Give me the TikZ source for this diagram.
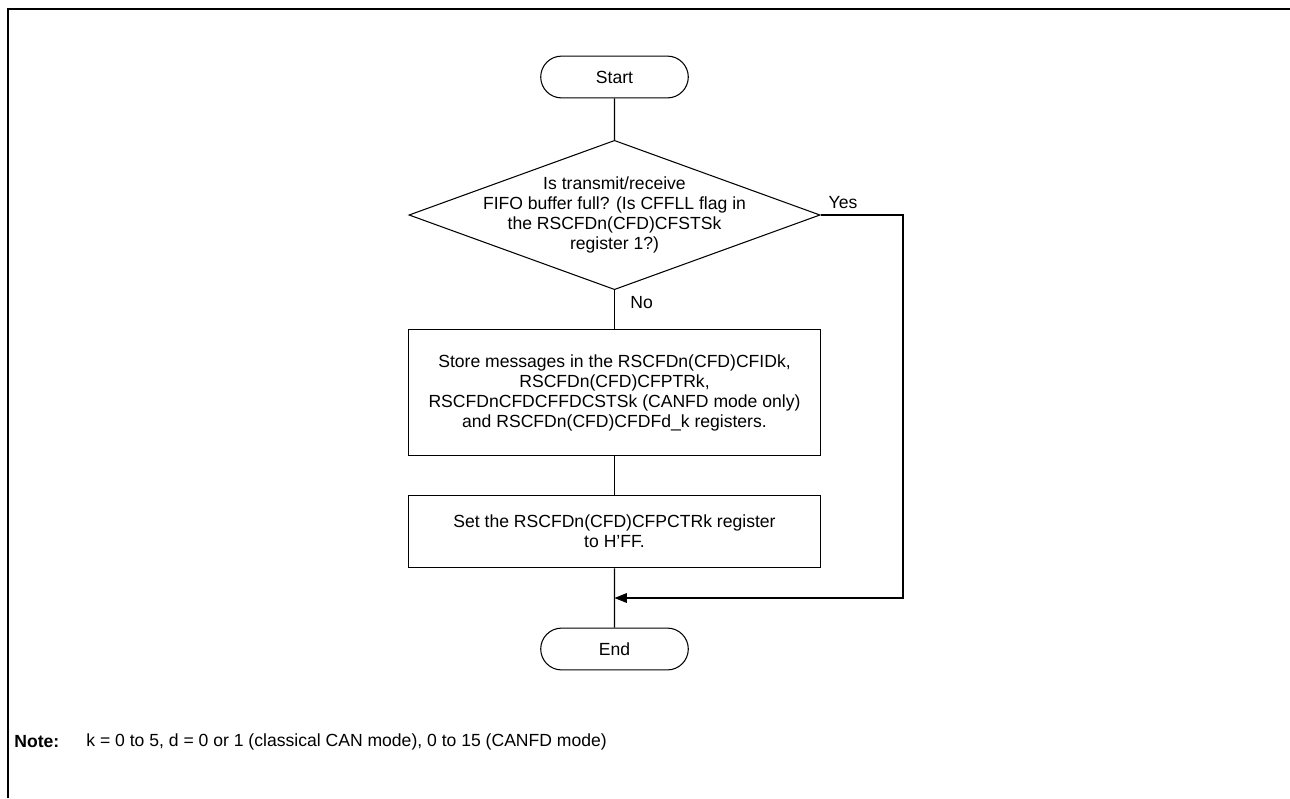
\documentclass[tikz,border=0pt]{standalone}
\usepackage{fontspec}
\setmainfont{Liberation Sans}
\usetikzlibrary{shapes.geometric,shapes.misc,arrows.meta}

\tikzset{
  term/.style={draw, rounded rectangle, minimum width=84pt, minimum height=23.8pt, inner sep=0pt},
  decision/.style={draw, diamond, minimum width=234pt, minimum height=85pt, inner sep=0pt},
  procbox/.style={draw, rectangle, minimum width=235pt, inner sep=0pt, align=center},
  flow/.style={line width=0.6pt},
}

\begin{document}
\begin{tikzpicture}[x=0.02cm, y=-0.02cm, font=\fontsize{10}{11.4}\selectfont, line width=0.6pt]
    \useasboundingbox (0,0) rectangle (1290,798);

    % Cadre
    \draw[line width=1.2pt] (8,798) -- (8,9) -- (1290,9);

    % Blocs
    \node[term] (start) at (614.5,77) {Start};
    \node[decision] (full) at (614.5,215) {};
    \node[align=center] (fulltxt) at (614.5,215) {Is transmit/receive\\FIFO buffer full? (Is CFFLL flag in\\the RSCFDn(CFD)CFSTSk\\register 1?)};
    \node[procbox, minimum height=72pt] (store) at (614.5,392.5) {Store messages in the RSCFDn(CFD)CFIDk,\\RSCFDn(CFD)CFPTRk,\\RSCFDnCFDCFFDCSTSk (CANFD mode only)\\and RSCFDn(CFD)CFDFd\_k registers.};
    \node[procbox, minimum height=41.4pt] (setptr) at (614.5,531.5) {Set the RSCFDn(CFD)CFPCTRk register\\to H'FF.};
    \node[term] (stop) at (614.5,649) {End};

    % Liaisons
    \coordinate (corner1) at (903,215);
    \coordinate (corner2) at (903,598);
    \coordinate (join) at (614.5,598);
    \draw[flow] (start) -- (full);
    \draw[flow] (full) -- (store);
    \draw[flow] (store) -- (setptr);
    \draw[flow] (setptr) -- (stop);
    \draw[flow, -{Triangle[length=7pt, width=5.5pt]}] (full.east) -- (corner1) -- (corner2) -- (join);

    % Etiquettes
    \node (yes) at (843,203) {Yes};
    \node[anchor=west] (no) at (624,303) {No};

    % Note
    \node[anchor=west, font=\fontsize{10}{12}\selectfont\bfseries] (notehead) at (8,742) {Note:};
    \node[anchor=west] (notetxt) at (80,742) {k = 0 to 5, d = 0 or 1 (classical CAN mode), 0 to 15 (CANFD mode)};
\end{tikzpicture}
\end{document}
